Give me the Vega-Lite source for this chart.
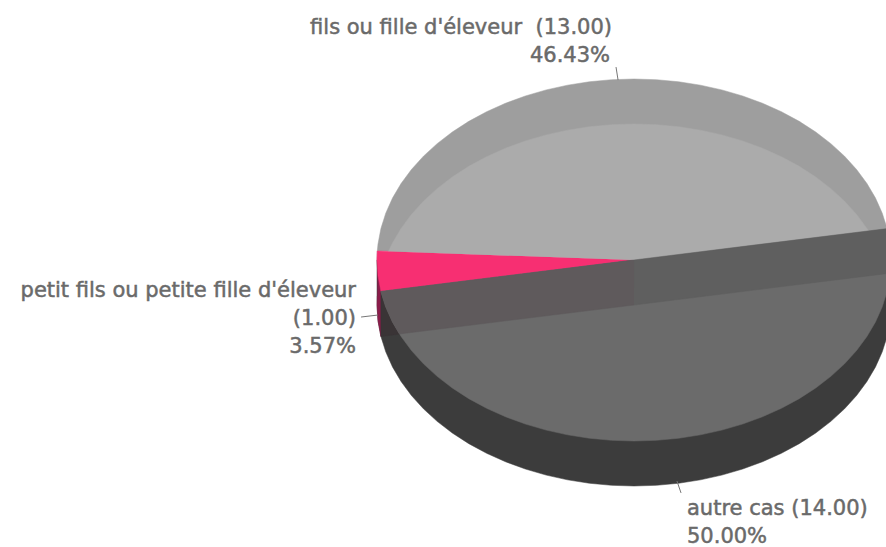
{"$schema":"https://vega.github.io/schema/vega-lite/v6.json","width":886,"height":547,"padding":0,"autosize":"none","background":"white","config":{"view":{"stroke":null}},
"datasets":{"formes":[
{"p":"flanc","i":0,"u":-1,"v":0},{"p":"flanc","i":1,"u":-1,"v":-0.2486},{"p":"flanc","i":2,"u":-0.9962,"v":-0.3358},{"p":"flanc","i":3,"u":-0.9848,"v":-0.4222},{"p":"flanc","i":4,"u":-0.9659,"v":-0.5074},{"p":"flanc","i":5,"u":-0.9397,"v":-0.5906},{"p":"flanc","i":6,"u":-0.9063,"v":-0.6712},{"p":"flanc","i":7,"u":-0.866,"v":-0.7486},{"p":"flanc","i":8,"u":-0.8192,"v":-0.8222},{"p":"flanc","i":9,"u":-0.766,"v":-0.8914},{"p":"flanc","i":10,"u":-0.7071,"v":-0.9557},{"p":"flanc","i":11,"u":-0.6428,"v":-1.0146},{"p":"flanc","i":12,"u":-0.5736,"v":-1.0678},{"p":"flanc","i":13,"u":-0.5,"v":-1.1146},{"p":"flanc","i":14,"u":-0.4226,"v":-1.1549},{"p":"flanc","i":15,"u":-0.342,"v":-1.1883},{"p":"flanc","i":16,"u":-0.2588,"v":-1.2145},{"p":"flanc","i":17,"u":-0.1736,"v":-1.2334},{"p":"flanc","i":18,"u":-0.0872,"v":-1.2448},{"p":"flanc","i":19,"u":0,"v":-1.2486},{"p":"flanc","i":20,"u":0.0872,"v":-1.2448},{"p":"flanc","i":21,"u":0.1736,"v":-1.2334},{"p":"flanc","i":22,"u":0.2588,"v":-1.2145},{"p":"flanc","i":23,"u":0.342,"v":-1.1883},{"p":"flanc","i":24,"u":0.4226,"v":-1.1549},{"p":"flanc","i":25,"u":0.5,"v":-1.1146},{"p":"flanc","i":26,"u":0.5736,"v":-1.0678},{"p":"flanc","i":27,"u":0.6428,"v":-1.0146},{"p":"flanc","i":28,"u":0.7071,"v":-0.9557},{"p":"flanc","i":29,"u":0.766,"v":-0.8914},{"p":"flanc","i":30,"u":0.8192,"v":-0.8222},{"p":"flanc","i":31,"u":0.866,"v":-0.7486},{"p":"flanc","i":32,"u":0.9063,"v":-0.6712},{"p":"flanc","i":33,"u":0.9397,"v":-0.5906},{"p":"flanc","i":34,"u":0.9659,"v":-0.5074},{"p":"flanc","i":35,"u":0.9848,"v":-0.4222},{"p":"flanc","i":36,"u":0.9962,"v":-0.3358},{"p":"flanc","i":37,"u":1,"v":-0.2486},{"p":"flanc","i":38,"u":1,"v":0},
{"p":"flancRose","i":0,"u":-0.9988,"v":0.05},{"p":"flancRose","i":1,"u":-1,"v":0},{"p":"flancRose","i":2,"u":-0.9962,"v":-0.0872},{"p":"flancRose","i":3,"u":-0.9848,"v":-0.1736},{"p":"flancRose","i":4,"u":-0.9848,"v":-0.4222},{"p":"flancRose","i":5,"u":-0.9962,"v":-0.3358},{"p":"flancRose","i":6,"u":-1,"v":-0.2486},{"p":"flancRose","i":7,"u":-0.9988,"v":-0.1986},
{"p":"coupeBas","i":0,"u":0,"v":0},{"p":"coupeBas","i":1,"u":-0.9848,"v":-0.1736},{"p":"coupeBas","i":2,"u":-0.9848,"v":-0.4222},{"p":"coupeBas","i":3,"u":0,"v":-0.2486},
{"p":"fils","i":0,"u":0,"v":0},{"p":"fils","i":1,"u":0.9848,"v":0.1736},{"p":"fils","i":2,"u":0.9659,"v":0.2588},{"p":"fils","i":3,"u":0.9397,"v":0.342},{"p":"fils","i":4,"u":0.9063,"v":0.4226},{"p":"fils","i":5,"u":0.866,"v":0.5},{"p":"fils","i":6,"u":0.8192,"v":0.5736},{"p":"fils","i":7,"u":0.766,"v":0.6428},{"p":"fils","i":8,"u":0.7071,"v":0.7071},{"p":"fils","i":9,"u":0.6428,"v":0.766},{"p":"fils","i":10,"u":0.5736,"v":0.8192},{"p":"fils","i":11,"u":0.5,"v":0.866},{"p":"fils","i":12,"u":0.4226,"v":0.9063},{"p":"fils","i":13,"u":0.342,"v":0.9397},{"p":"fils","i":14,"u":0.2588,"v":0.9659},{"p":"fils","i":15,"u":0.1736,"v":0.9848},{"p":"fils","i":16,"u":0.0872,"v":0.9962},{"p":"fils","i":17,"u":0,"v":1},{"p":"fils","i":18,"u":-0.0872,"v":0.9962},{"p":"fils","i":19,"u":-0.1736,"v":0.9848},{"p":"fils","i":20,"u":-0.2588,"v":0.9659},{"p":"fils","i":21,"u":-0.342,"v":0.9397},{"p":"fils","i":22,"u":-0.4226,"v":0.9063},{"p":"fils","i":23,"u":-0.5,"v":0.866},{"p":"fils","i":24,"u":-0.5736,"v":0.8192},{"p":"fils","i":25,"u":-0.6428,"v":0.766},{"p":"fils","i":26,"u":-0.7071,"v":0.7071},{"p":"fils","i":27,"u":-0.766,"v":0.6428},{"p":"fils","i":28,"u":-0.8192,"v":0.5736},{"p":"fils","i":29,"u":-0.866,"v":0.5},{"p":"fils","i":30,"u":-0.9063,"v":0.4226},{"p":"fils","i":31,"u":-0.9397,"v":0.342},{"p":"fils","i":32,"u":-0.9659,"v":0.2588},{"p":"fils","i":33,"u":-0.9848,"v":0.1736},{"p":"fils","i":34,"u":-0.9962,"v":0.0872},{"p":"fils","i":35,"u":-0.9988,"v":0.0499},
{"p":"petit","i":0,"u":0,"v":0},{"p":"petit","i":1,"u":-0.9988,"v":0.0499},{"p":"petit","i":2,"u":-1,"v":0},{"p":"petit","i":3,"u":-0.9962,"v":-0.0872},{"p":"petit","i":4,"u":-0.9848,"v":-0.1736},
{"p":"autre","i":0,"u":0,"v":0},{"p":"autre","i":1,"u":-0.9848,"v":-0.1736},{"p":"autre","i":2,"u":-0.9659,"v":-0.2588},{"p":"autre","i":3,"u":-0.9397,"v":-0.342},{"p":"autre","i":4,"u":-0.9063,"v":-0.4226},{"p":"autre","i":5,"u":-0.866,"v":-0.5},{"p":"autre","i":6,"u":-0.8192,"v":-0.5736},{"p":"autre","i":7,"u":-0.766,"v":-0.6428},{"p":"autre","i":8,"u":-0.7071,"v":-0.7071},{"p":"autre","i":9,"u":-0.6428,"v":-0.766},{"p":"autre","i":10,"u":-0.5736,"v":-0.8192},{"p":"autre","i":11,"u":-0.5,"v":-0.866},{"p":"autre","i":12,"u":-0.4226,"v":-0.9063},{"p":"autre","i":13,"u":-0.342,"v":-0.9397},{"p":"autre","i":14,"u":-0.2588,"v":-0.9659},{"p":"autre","i":15,"u":-0.1736,"v":-0.9848},{"p":"autre","i":16,"u":-0.0872,"v":-0.9962},{"p":"autre","i":17,"u":0,"v":-1},{"p":"autre","i":18,"u":0.0872,"v":-0.9962},{"p":"autre","i":19,"u":0.1736,"v":-0.9848},{"p":"autre","i":20,"u":0.2588,"v":-0.9659},{"p":"autre","i":21,"u":0.342,"v":-0.9397},{"p":"autre","i":22,"u":0.4226,"v":-0.9063},{"p":"autre","i":23,"u":0.5,"v":-0.866},{"p":"autre","i":24,"u":0.5736,"v":-0.8192},{"p":"autre","i":25,"u":0.6428,"v":-0.766},{"p":"autre","i":26,"u":0.7071,"v":-0.7071},{"p":"autre","i":27,"u":0.766,"v":-0.6428},{"p":"autre","i":28,"u":0.8192,"v":-0.5736},{"p":"autre","i":29,"u":0.866,"v":-0.5},{"p":"autre","i":30,"u":0.9063,"v":-0.4226},{"p":"autre","i":31,"u":0.9397,"v":-0.342},{"p":"autre","i":32,"u":0.9659,"v":-0.2588},{"p":"autre","i":33,"u":0.9848,"v":-0.1736},{"p":"autre","i":34,"u":0.9962,"v":-0.0872},{"p":"autre","i":35,"u":1,"v":0},{"p":"autre","i":36,"u":0.9962,"v":0.0872},{"p":"autre","i":37,"u":0.9848,"v":0.1736},
{"p":"filsClair","i":0,"u":0,"v":0},{"p":"filsClair","i":1,"u":0.9121,"v":0.1613},{"p":"filsClair","i":2,"u":0.9063,"v":0.174},{"p":"filsClair","i":3,"u":0.866,"v":0.2514},{"p":"filsClair","i":4,"u":0.8192,"v":0.325},{"p":"filsClair","i":5,"u":0.766,"v":0.3942},{"p":"filsClair","i":6,"u":0.7071,"v":0.4585},{"p":"filsClair","i":7,"u":0.6428,"v":0.5174},{"p":"filsClair","i":8,"u":0.5736,"v":0.5706},{"p":"filsClair","i":9,"u":0.5,"v":0.6174},{"p":"filsClair","i":10,"u":0.4226,"v":0.6577},{"p":"filsClair","i":11,"u":0.342,"v":0.6911},{"p":"filsClair","i":12,"u":0.2588,"v":0.7173},{"p":"filsClair","i":13,"u":0.1736,"v":0.7362},{"p":"filsClair","i":14,"u":0.0872,"v":0.7476},{"p":"filsClair","i":15,"u":0,"v":0.7514},{"p":"filsClair","i":16,"u":-0.0872,"v":0.7476},{"p":"filsClair","i":17,"u":-0.1736,"v":0.7362},{"p":"filsClair","i":18,"u":-0.2588,"v":0.7173},{"p":"filsClair","i":19,"u":-0.342,"v":0.6911},{"p":"filsClair","i":20,"u":-0.4226,"v":0.6577},{"p":"filsClair","i":21,"u":-0.5,"v":0.6174},{"p":"filsClair","i":22,"u":-0.5736,"v":0.5706},{"p":"filsClair","i":23,"u":-0.6428,"v":0.5174},{"p":"filsClair","i":24,"u":-0.7071,"v":0.4585},{"p":"filsClair","i":25,"u":-0.766,"v":0.3942},{"p":"filsClair","i":26,"u":-0.8192,"v":0.325},{"p":"filsClair","i":27,"u":-0.866,"v":0.2514},{"p":"filsClair","i":28,"u":-0.9063,"v":0.174},{"p":"filsClair","i":29,"u":-0.9397,"v":0.0934},{"p":"filsClair","i":30,"u":-0.9551,"v":0.0479},
{"p":"coupeG","i":0,"u":0,"v":0},{"p":"coupeG","i":1,"u":-0.9848,"v":-0.1736},{"p":"coupeG","i":2,"u":-0.9659,"v":-0.2588},{"p":"coupeG","i":3,"u":-0.9397,"v":-0.342},{"p":"coupeG","i":4,"u":-0.9127,"v":-0.4086},{"p":"coupeG","i":5,"u":0,"v":-0.2486},
{"p":"coupeD","i":0,"u":0,"v":0},{"p":"coupeD","i":1,"u":0.9848,"v":0.1736},{"p":"coupeD","i":2,"u":0.9962,"v":0.0872},{"p":"coupeD","i":3,"u":1,"v":0},{"p":"coupeD","i":4,"u":0.9974,"v":-0.0727},{"p":"coupeD","i":5,"u":0,"v":-0.2486}
],
"reperes":[
{"s":"fils","i":0,"u":-0.07,"v":1.066},{"s":"fils","i":1,"u":-0.062,"v":0.994},
{"s":"petit","i":0,"u":-1.062,"v":-0.315},{"s":"petit","i":1,"u":-0.996,"v":-0.304},
{"s":"autre","i":0,"u":0.167,"v":-1.221},{"s":"autre","i":1,"u":0.183,"v":-1.287}
],
"etiquettes":[
{"t":"fils ou fille d'éleveur \u00a0(13.00)","u":-0.0856,"v":1.2486,"a":"r"},
{"t":"46.43%","u":-0.0934,"v":1.0939,"a":"r"},
{"t":"petit fils ou petite fille d'éleveur","u":-1.0817,"v":-0.2044,"a":"r"},
{"t":"(1.00)","u":-1.0817,"v":-0.3591,"a":"r"},
{"t":"3.57%","u":-1.0817,"v":-0.5138,"a":"r"},
{"t":"autre cas (14.00)","u":0.2062,"v":-1.4088,"a":"l"},
{"t":"50.00%","u":0.2062,"v":-1.5635,"a":"l"}
]},
"layer":[
{"data":{"name":"formes"},"mark":{"type":"line","clip":true,"strokeWidth":0.5,"interpolate":"linear"},
"encoding":{
"x":{"field":"u","type":"quantitative","axis":null,"scale":{"domain":[-2.4669,0.9805],"nice":false,"zero":false}},
"y":{"field":"v","type":"quantitative","axis":null,"scale":{"domain":[-1.5856,1.4365],"nice":false,"zero":false}},
"order":{"field":"i"},
"fill":{"field":"p","type":"nominal","legend":null,"sort":null,"scale":{"domain":["flanc","flancRose","coupeBas","fils","petit","autre","filsClair","coupeG","coupeD"],"range":["#3c3c3c","#8a1c4a","#3a3436","#9e9e9e","#f72f72","#6b6b6b","#ababab","#5f5a5c","#5f5f5f"]}},
"stroke":{"field":"p","type":"nominal","legend":null,"sort":null,"scale":{"domain":["flanc","flancRose","coupeBas","fils","petit","autre","filsClair","coupeG","coupeD"],"range":["#3c3c3c","#8a1c4a","#3a3436","#9e9e9e","#f72f72","#6b6b6b","#ababab","#5f5a5c","#5f5f5f"]}}
}},
{"data":{"name":"reperes"},"mark":{"type":"line","stroke":"#777777","strokeWidth":1},
"encoding":{"x":{"field":"u","type":"quantitative"},"y":{"field":"v","type":"quantitative"},"detail":{"field":"s"},"order":{"field":"i"}}},
{"data":{"name":"etiquettes"},"transform":[{"filter":"datum.a == 'r'"}],"mark":{"type":"text","align":"right","baseline":"alphabetic","font":"DejaVu Sans","fontSize":21,"fill":"#6a6a6a","stroke":"#6a6a6a","strokeWidth":0.5},
"encoding":{"x":{"field":"u","type":"quantitative"},"y":{"field":"v","type":"quantitative"},"text":{"field":"t"}}},
{"data":{"name":"etiquettes"},"transform":[{"filter":"datum.a == 'l'"}],"mark":{"type":"text","align":"left","baseline":"alphabetic","font":"DejaVu Sans","fontSize":21,"fill":"#6a6a6a","stroke":"#6a6a6a","strokeWidth":0.5},
"encoding":{"x":{"field":"u","type":"quantitative"},"y":{"field":"v","type":"quantitative"},"text":{"field":"t"}}}
]}
